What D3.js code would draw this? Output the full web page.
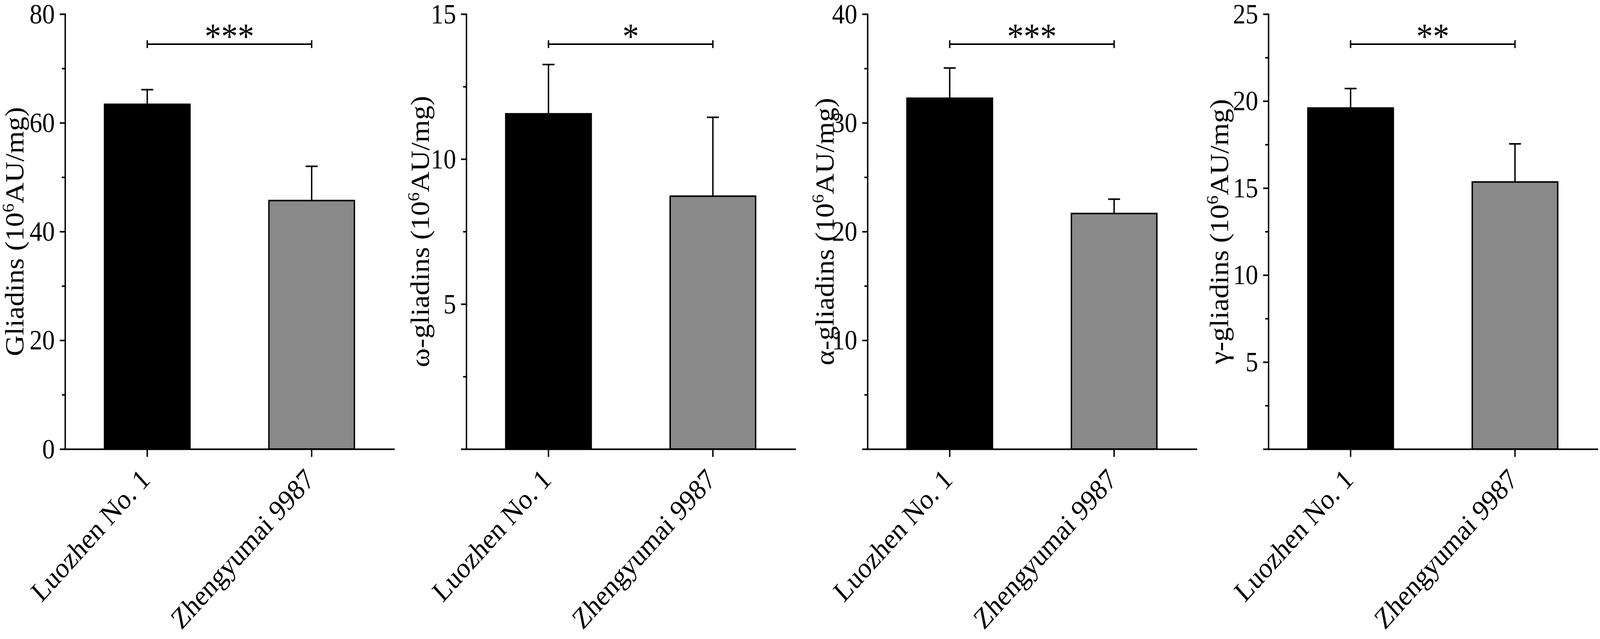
<!DOCTYPE html>
<html>
<head>
<meta charset="utf-8">
<script src="https://cdn.jsdelivr.net/npm/d3@7"></script>
<style>
	html, body{margin:0;padding:0;background:#fff;overflow:hidden;width:100%;height:100%;}
	svg{display:block;width:100vw;height:100vh;}
	text{font-family:"Liberation Serif","Times New Roman",serif;fill:#000;}
</style>
</head>
<body>
<svg id="chart" viewBox="0 0 4550 1635" preserveAspectRatio="none"></svg>
<script>
// data (mean and SD per cultivar)
var cultivars = ['Luozhen No. 1', 'Zhengyumai 9987'];
var panelNames = ['Gliadins', 'ω-gliadins', 'α-gliadins', 'γ-gliadins'];
var meanValues = [[63.4, 45.7], [11.56, 8.72], [32.26, 21.66], [19.6, 15.35]];
var sdValues = [[2.7, 6.3], [1.7, 2.72], [2.78, 1.32], [1.12, 2.19]];
var yMax = [80, 15, 40, 25];
var majorTicks = [[0, 20, 40, 60, 80], [0, 5, 10, 15], [0, 10, 20, 30, 40], [0, 5, 10, 15, 20, 25]];
var tickLabels = [['0', '20', '40', '60', '80'], ['', '5', '10', '15'], ['', '10', '20', '30', '40'], ['', '5', '10', '15', '20', '25']];
var minorTicks = [[10, 30, 50, 70], [2.5, 7.5, 12.5], [5, 15, 25, 35], [2.5, 7.5, 12.5, 17.5, 22.5]];
var sigLabels = ['***', '*', '***', '**'];
var barColors = ['#000000', '#898989'];

// layout
var axisX = [185, 1326, 2467, 3607];
var labelOffset = [118, 106, 97, 115];
var plotTop = 36, plotBottom = 1149, plotW = 935;
var bracketY = 113;
var LW = 4;

var svg = d3.select('#chart');
svg.append('rect').attr('width', 4550).attr('height', 1635).attr('fill', '#fff');

panelNames.forEach(function(name, p){
	var g = svg.append('g').attr('transform', 'translate(' + axisX[p] + ',0)');

	var y = d3.scaleLinear().domain([0, yMax[p]]).range([plotBottom, plotTop]);
	var x = d3.scaleBand().domain(cultivars).range([0, plotW]).paddingInner(0.48).paddingOuter(0.24);
	var bw = x.bandwidth();

	var rows = cultivars.map(function(c, i){
		return {name: c, mean: meanValues[p][i], sd: sdValues[p][i], color: barColors[i]};
	});

	// bars
	g.selectAll('rect.bar').data(rows).enter().append('rect')
		.attr('class', 'bar')
		.attr('x', function(d){ return x(d.name); })
		.attr('y', function(d){ return y(d.mean); })
		.attr('width', bw)
		.attr('height', function(d){ return plotBottom - y(d.mean); })
		.attr('fill', function(d){ return d.color; })
		.attr('stroke', '#000')
		.attr('stroke-width', LW);

	// error bars (upper only)
	g.selectAll('line.err').data(rows).enter().append('line')
		.attr('class', 'err')
		.attr('x1', function(d){ return x(d.name) + bw / 2; })
		.attr('x2', function(d){ return x(d.name) + bw / 2; })
		.attr('y1', function(d){ return y(d.mean); })
		.attr('y2', function(d){ return y(d.mean + d.sd); })
		.attr('stroke', '#000').attr('stroke-width', LW);
	g.selectAll('line.cap').data(rows).enter().append('line')
		.attr('class', 'cap')
		.attr('x1', function(d){ return x(d.name) + bw / 2 - 17; })
		.attr('x2', function(d){ return x(d.name) + bw / 2 + 17; })
		.attr('y1', function(d){ return y(d.mean + d.sd); })
		.attr('y2', function(d){ return y(d.mean + d.sd); })
		.attr('stroke', '#000').attr('stroke-width', LW);

	// y axis
	var yAxis = g.append('g')
		.call(d3.axisLeft(y).tickValues(majorTicks[p])
			.tickFormat(function(d, i){ return tickLabels[p][i]; })
			.tickSize(15).tickPadding(14).tickSizeOuter(0));
	var yMinor = g.append('g')
		.call(d3.axisLeft(y).tickValues(minorTicks[p]).tickFormat('').tickSize(9));
	yMinor.select('.domain').remove();

	// x axis
	var xAxis = g.append('g').attr('transform', 'translate(0,' + plotBottom + ')')
		.call(d3.axisBottom(x).tickSize(20).tickSizeOuter(0).tickFormat(''));

	[yAxis, yMinor, xAxis].forEach(function(a){
		a.selectAll('path, line').attr('stroke', '#000').attr('stroke-width', LW);
		a.selectAll('.domain').attr('stroke-linecap', 'square');
		a.selectAll('text').attr('font-size', 72).attr('font-family', null).attr('fill', '#000');
	});

	// rotated category labels
	g.selectAll('text.cat').data(cultivars).enter().append('text')
		.attr('class', 'cat')
		.attr('text-anchor', 'end')
		.attr('font-size', 74)
		.attr('transform', function(d){
			return 'translate(' + (x(d) + bw / 2 + 12) + ',' + (plotBottom + 82) + ') rotate(-45)';
		})
		.text(function(d){ return d; });

	// y axis title with superscript
	var yt = g.append('text')
		.attr('text-anchor', 'middle')
		.attr('font-size', 74)
		.attr('transform', 'translate(' + (-labelOffset[p]) + ',' + ((plotTop + plotBottom) / 2) + ') rotate(-90)');
	yt.append('tspan').text(name + ' (10');
	yt.append('tspan').attr('font-size', 46).attr('dy', -28).text('6');
	yt.append('tspan').attr('dy', 28).text('AU/mg)');

	// significance bracket
	var x0 = x(cultivars[0]) + bw / 2, x1 = x(cultivars[1]) + bw / 2;
	var br = g.append('g').attr('stroke', '#000').attr('stroke-width', LW);
	br.append('line').attr('x1', x0).attr('x2', x1).attr('y1', bracketY).attr('y2', bracketY);
	br.append('line').attr('x1', x0).attr('x2', x0).attr('y1', bracketY - 10).attr('y2', bracketY + 10);
	br.append('line').attr('x1', x1).attr('x2', x1).attr('y1', bracketY - 10).attr('y2', bracketY + 10);
	g.append('text')
		.attr('x', (x0 + x1) / 2).attr('y', bracketY + 11)
		.attr('text-anchor', 'middle')
		.attr('font-size', 94)
		.text(sigLabels[p]);
});
</script>
</body>
</html>
